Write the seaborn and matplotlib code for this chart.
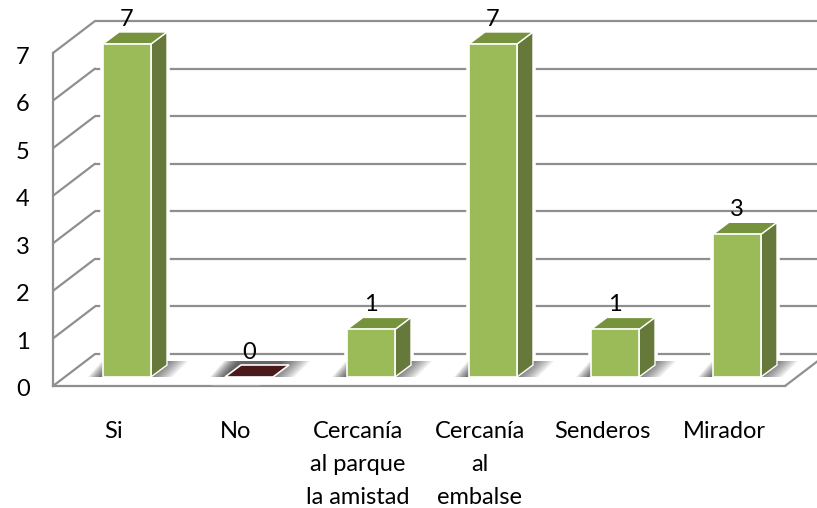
import pandas as pd
import numpy as np
import matplotlib.pyplot as plt
import seaborn as sns
from matplotlib.lines import Line2D
from matplotlib.patches import Polygon
from matplotlib.transforms import Affine2D, IdentityTransform

# Data
categorias = ['Si', 'No', 'Cercanía\nal parque\nla amistad', 'Cercanía\nal\nembalse', 'Senderos', 'Mirador']
valores = [7, 0, 1, 7, 1, 3]
ticks_y = [0, 1, 2, 3, 4, 5, 6, 7]

# Colours of the fake 3D look
verde = '#9bbb59'
verde_lado = '#66783a'
verde_tope = '#76923c'
marron = '#4a1a1a'
gris = '#8f8f8f'

# Depth of the wall and of the bars, in pixels
pared_dx, pared_dy = 42, 32
barra_dx, barra_dy = 16, 12
suelo_dx, suelo_dy = 13, 9

W, H = 817, 508
sns.set_theme(style='white')
plt.rcParams['font.family'] = ['Lato', 'DejaVu Sans']

fig = plt.figure(figsize=(W / 100, H / 100), dpi=100)
ax = fig.add_axes([53 / W, 1 - 386 / H, 732 / W, 333 / H])
ax.patch.set_alpha(0)

df = pd.DataFrame({'categoria': categorias, 'valor': valores})
paleta = [verde if v > 0 else marron for v in valores]
sns.barplot(data=df, x='categoria', y='valor', hue='categoria', palette=paleta,
            legend=False, width=48 / 122, saturation=1, ax=ax, zorder=5)

ax.set_xlim(-0.5, 5.5)
ax.set_ylim(0, 7)
ax.set_xlabel('')
ax.set_ylabel('')
ax.set_yticks(ticks_y)
ax.set_xticks(range(len(categorias)))
ax.set_xticklabels(categorias, fontsize=17, linespacing=1.68)
ax.set_xticks(np.arange(-0.5, 6), minor=True)
ax.tick_params(axis='x', which='major', length=0, pad=25.5, colors='black')
ax.tick_params(axis='x', which='minor', length=5.8, width=1.4, color=gris)
ax.tick_params(axis='y', length=5.8, width=1.4, color=gris, pad=11, labelsize=17, labelcolor='black')
for etiqueta in ax.get_yticklabels():
    etiqueta.set_transform(etiqueta.get_transform() + Affine2D().translate(0, -2))

sns.despine(ax=ax, top=True, right=True)
for lado in ['left', 'bottom']:
    ax.spines[lado].set_color(gris)
    ax.spines[lado].set_linewidth(1.6)

# Back wall: grid lines pushed back, and the diagonals joining them to the axis
pared = ax.transData + Affine2D().translate(pared_dx, pared_dy)
ax.hlines(ticks_y, -0.5, 5.5, colors=gris, linewidth=1.6, transform=pared, clip_on=False, zorder=1)
for t in ticks_y:
    x0, y0 = ax.transData.transform((-0.5, t))
    fig.add_artist(Line2D([x0, x0 + pared_dx], [y0, y0 + pared_dy], color=gris, lw=1.6,
                          transform=IdentityTransform(), zorder=0))
x0, y0 = ax.transData.transform((5.5, 0))
fig.add_artist(Line2D([x0, x0 + pared_dx], [y0, y0 + pared_dy], color=gris, lw=1.6,
                      transform=IdentityTransform(), zorder=0))

suelo = Affine2D().translate(suelo_dx, suelo_dy)


def poligono(puntos, **kw):
    ax.add_patch(Polygon(puntos, closed=True, transform=IdentityTransform(), clip_on=False, **kw))


for barra, valor, color in zip(ax.patches, valores, paleta):
    xa, ya = ax.transData.transform((barra.get_x(), barra.get_y()))
    xb, yb = ax.transData.transform((barra.get_x() + barra.get_width(), barra.get_y() + barra.get_height()))
    xa, ya, xb, yb = xa + suelo_dx, ya + suelo_dy, xb + suelo_dx, yb + suelo_dy

    if valor > 0:
        # white halo that cuts the grid lines
        poligono([(xa, ya), (xb, ya), (xb + barra_dx, ya + barra_dy), (xb + barra_dx, yb + barra_dy),
                  (xa + barra_dx, yb + barra_dy), (xa, yb)],
                 facecolor='white', edgecolor='white', lw=4, zorder=2)

    # soft shadow on the floor, built from stacked polygons
    for k in range(12):
        m = 15 - k * 1.3
        m2 = 37 - k * 2.4
        poligono([(xa - m, ya), (xb + m2 - 16, ya), (xb + m2, ya + 16), (xa - m + 14, ya + 16)],
                 facecolor='black', edgecolor='none', alpha=0.07, zorder=3)

    if valor > 0:
        poligono([(xb, ya), (xb + barra_dx, ya + barra_dy), (xb + barra_dx, yb + barra_dy), (xb, yb)],
                 facecolor=verde_lado, edgecolor='white', lw=1, zorder=4)
        poligono([(xa, yb), (xb, yb), (xb + barra_dx, yb + barra_dy), (xa + barra_dx, yb + barra_dy)],
                 facecolor=verde_tope, edgecolor='white', lw=1, zorder=4)
        barra.set_transform(ax.transData + suelo)
        barra.set_edgecolor('white')
        barra.set_linewidth(1.2)
        barra.set_clip_on(False)
    else:
        poligono([(xa, ya), (xb, ya), (xb + barra_dx, ya + barra_dy), (xa + barra_dx, ya + barra_dy)],
                 facecolor=color, edgecolor='white', lw=1.2, zorder=4)

    # value label over the bar
    ax.annotate(str(valor), xy=(barra.get_x() + barra.get_width() / 2, valor),
                xytext=(suelo_dx, 23), textcoords='offset pixels', ha='center', va='bottom', fontsize=17,
                color='black', annotation_clip=False, zorder=6)

fig.savefig('out.png', dpi=100)
